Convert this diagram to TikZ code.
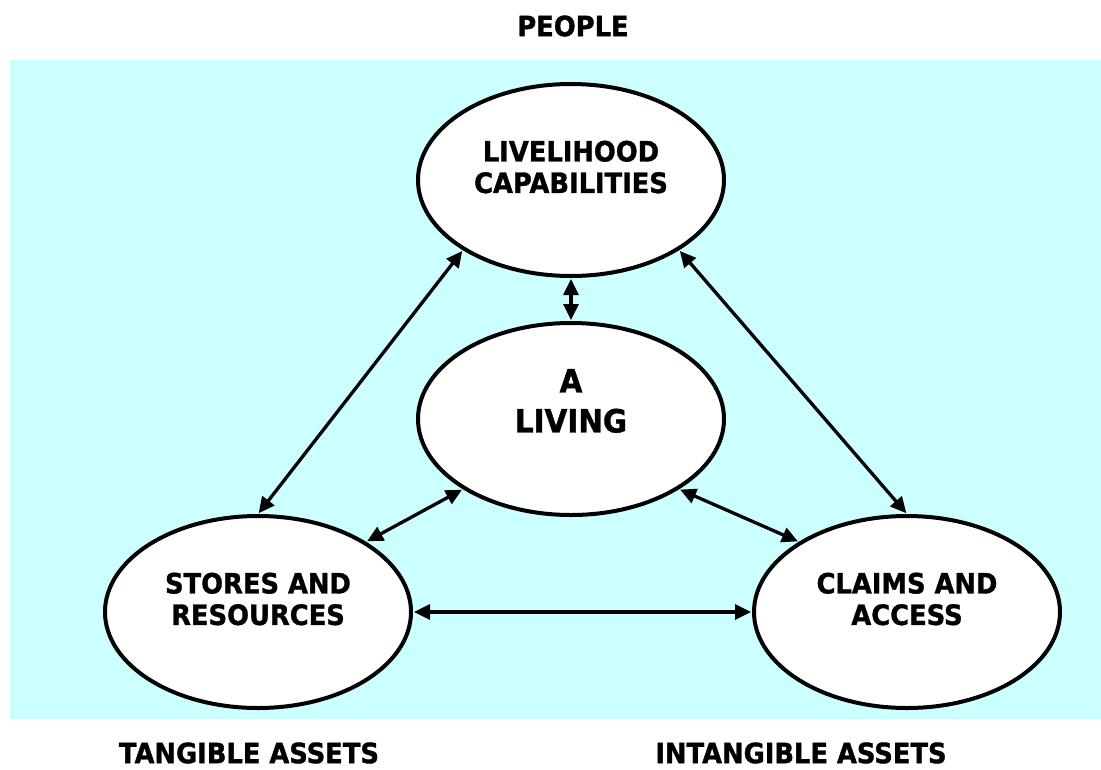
\documentclass[tikz,border=0pt]{standalone}
\usepackage{fontspec}
\setmainfont{DejaVu Sans}[FakeStretch=0.92, BoldFeatures={FakeBold=1.2}]
\usetikzlibrary{arrows.meta,shapes.geometric}
\definecolor{bgcyan}{RGB}{204,255,255}
\tikzset{
  oval/.style={ellipse, draw=black, line width=4pt, fill=white, minimum width=306pt, minimum height=192pt, inner sep=0pt},
  txt/.style={font=\bfseries\fontsize{28}{31.5}\selectfont, align=center, inner sep=0pt},
  bigtxt/.style={font=\bfseries\fontsize{32}{40}\selectfont, align=center, inner sep=0pt},
  link/.style={line width=3.3pt, {Triangle[length=16pt,width=15pt]}-{Triangle[length=16pt,width=15pt]}, shorten <=1pt, shorten >=1pt}
}
\begin{document}
\begin{tikzpicture}[x=1pt,y=-1pt]
\useasboundingbox (0,0) rectangle (1101,769);
\fill[bgcyan] (10,60) rectangle (1101,719);
\node[txt] (people) at (573,26) {PEOPLE};
\node[txt] (tang) at (249,753) {TANGIBLE ASSETS};
\node[txt] (intang) at (801,753) {INTANGIBLE ASSETS};
\node[oval] (T) at (571,180) {};
\node[oval] (C) at (571,419) {};
\node[oval] (L) at (258,612) {};
\node[oval] (R) at (907,612) {};
\node[txt] (Tt) at ([yshift=13pt]T.center) {LIVELIHOOD\\CAPABILITIES};
\node[bigtxt] (Ct) at ([yshift=18pt]C.center) {A\\LIVING};
\node[txt] (Lt) at ([yshift=13pt]L.center) {STORES AND\\RESOURCES};
\node[txt] (Rt) at ([yshift=13pt]R.center) {CLAIMS AND\\ACCESS};
\draw[link] (T.213) -- (L.north);
\draw[link] (T.327) -- (R.north);
\draw[link] (T.south) -- (C.north);
\draw[link] (C.213) -- (L.33);
\draw[link] (C.327) -- (R.147);
\draw[link] (L.east) -- (R.west);
\end{tikzpicture}
\end{document}
